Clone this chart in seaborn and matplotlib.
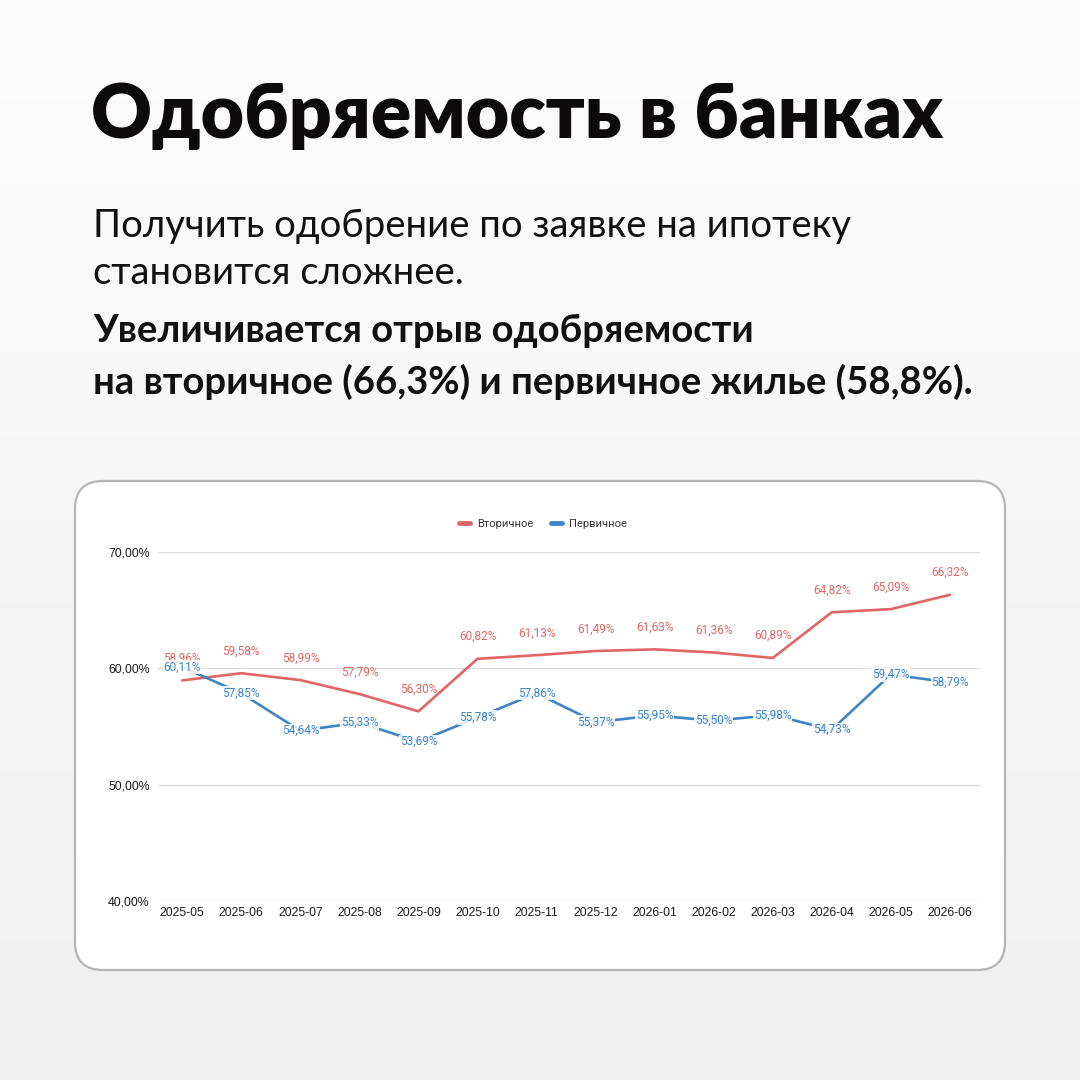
import numpy as np
import pandas as pd
import seaborn as sns
import matplotlib.pyplot as plt
from matplotlib.patches import FancyBboxPatch

# chart data
months = ["2025-05", "2025-06", "2025-07", "2025-08", "2025-09", "2025-10", "2025-11",
          "2025-12", "2026-01", "2026-02", "2026-03", "2026-04", "2026-05", "2026-06"]
secondary = [58.96, 59.58, 58.99, 57.79, 56.30, 60.82, 61.13,
             61.49, 61.63, 61.36, 60.89, 64.82, 65.09, 66.32]
primary = [60.11, 57.85, 54.64, 55.33, 53.69, 55.78, 57.86,
           55.37, 55.95, 55.50, 55.98, 54.73, 59.47, 58.79]
series_names = ["Вторичное", "Первичное"]
y_ticks = [40, 50, 60, 70]

RED = "#e06666"
BLUE = "#3d85c6"

df = pd.DataFrame({"month": months * 2,
                   "value": secondary + primary,
                   "series": [series_names[0]] * len(months) + [series_names[1]] * len(months)})
df["x"] = df.groupby("series").cumcount()

sns.set_theme(style="white")
plt.rcParams["font.family"] = ["Roboto", "DejaVu Sans"]

W = H = 1080
fig = plt.figure(figsize=(10.8, 10.8), dpi=100)

# light gray background
bg = fig.add_axes([0, 0, 1, 1], zorder=-10)
grad = np.linspace(0.985, 0.935, 256).reshape(-1, 1)
bg.imshow(grad, cmap="gray", vmin=0, vmax=1, aspect="auto", extent=[0, 1, 0, 1])
bg.set_axis_off()

def fx(px):
    return px / W

def fy(py):
    return 1 - py / H

# headings
head = ["Lato", "DejaVu Sans"]
fig.text(fx(91), fy(138), "Одобряемость в банках", fontsize=54, fontweight="heavy",
         family=head, color="#0d0a0b", va="baseline")
fig.text(fx(93), fy(237), "Получить одобрение по заявке на ипотеку", fontsize=27.5,
         family=head, color="#111111", va="baseline")
fig.text(fx(93), fy(284), "становится сложнее.", fontsize=27.5,
         family=head, color="#111111", va="baseline")
fig.text(fx(93), fy(342), "Увеличивается отрыв одобряемости", fontsize=27.5, fontweight="bold",
         family=head, color="#111111", va="baseline")
fig.text(fx(93), fy(394), "на вторичное (66,3%) и первичное жилье (58,8%).", fontsize=27.5,
         fontweight="bold", family=head, color="#111111", va="baseline")

# white card
card = FancyBboxPatch((fx(75), fy(970)), fx(1005) - fx(75), fy(481) - fy(970),
                      boxstyle="round,pad=0,rounding_size=0.026",
                      transform=fig.transFigure, facecolor="white",
                      edgecolor="#b5b5b5", linewidth=1.6, zorder=-5)
fig.patches.append(card)

ax = fig.add_axes([fx(158), fy(901), fx(980) - fx(158), fy(552) - fy(901)], zorder=1)
ax.set_facecolor("none")

sns.lineplot(data=df, x="x", y="value", hue="series", palette=[RED, BLUE],
             linewidth=1.9, ax=ax, legend=True, zorder=3)

ax.set_xlim(-0.41, 13.51)
ax.set_ylim(40, 70)
ax.set_yticks(y_ticks)
ax.set_yticklabels([f"{t},00%" for t in y_ticks], fontsize=8.8, color="#1a1a1a",
                   family=["Liberation Sans", "DejaVu Sans"])
ax.set_xticks(range(len(months)))
ax.set_xticklabels(months, fontsize=8.8, color="#1a1a1a",
                   family=["Liberation Sans", "DejaVu Sans"])
ax.tick_params(axis="both", length=0, pad=6)
ax.tick_params(axis="x", pad=4)
ax.yaxis.grid(True, color="#dddddd", linewidth=1)
ax.set_axisbelow(True)
for s in ax.spines.values():
    s.set_visible(False)
ax.set_xlabel("")
ax.set_ylabel("")

# value labels
for i, v in enumerate(secondary):
    ax.annotate(f"{v:.2f}%".replace(".", ","), (i, v), xytext=(0, 16),
                textcoords="offset points", ha="center", va="center",
                fontsize=8.5, color=RED, zorder=5)
for i, v in enumerate(primary):
    ax.annotate(f"{v:.2f}%".replace(".", ","), (i, v), xytext=(0, 0),
                textcoords="offset points", ha="center", va="center",
                fontsize=8.5, color=BLUE, zorder=5,
                bbox=dict(boxstyle="square,pad=0.05", facecolor="white", edgecolor="none", alpha=0.85))

leg = ax.legend(loc="center", bbox_to_anchor=(fx(543 - 158) / fx(822), 1 + 28 / 349),
                ncol=2, frameon=False, fontsize=8, handlelength=1.0, handletextpad=0.6,
                columnspacing=1.6)
for line in leg.get_lines():
    line.set_linewidth(3.5)
for t in leg.get_texts():
    t.set_color("#333333")

fig.savefig("out.png", dpi=100)
